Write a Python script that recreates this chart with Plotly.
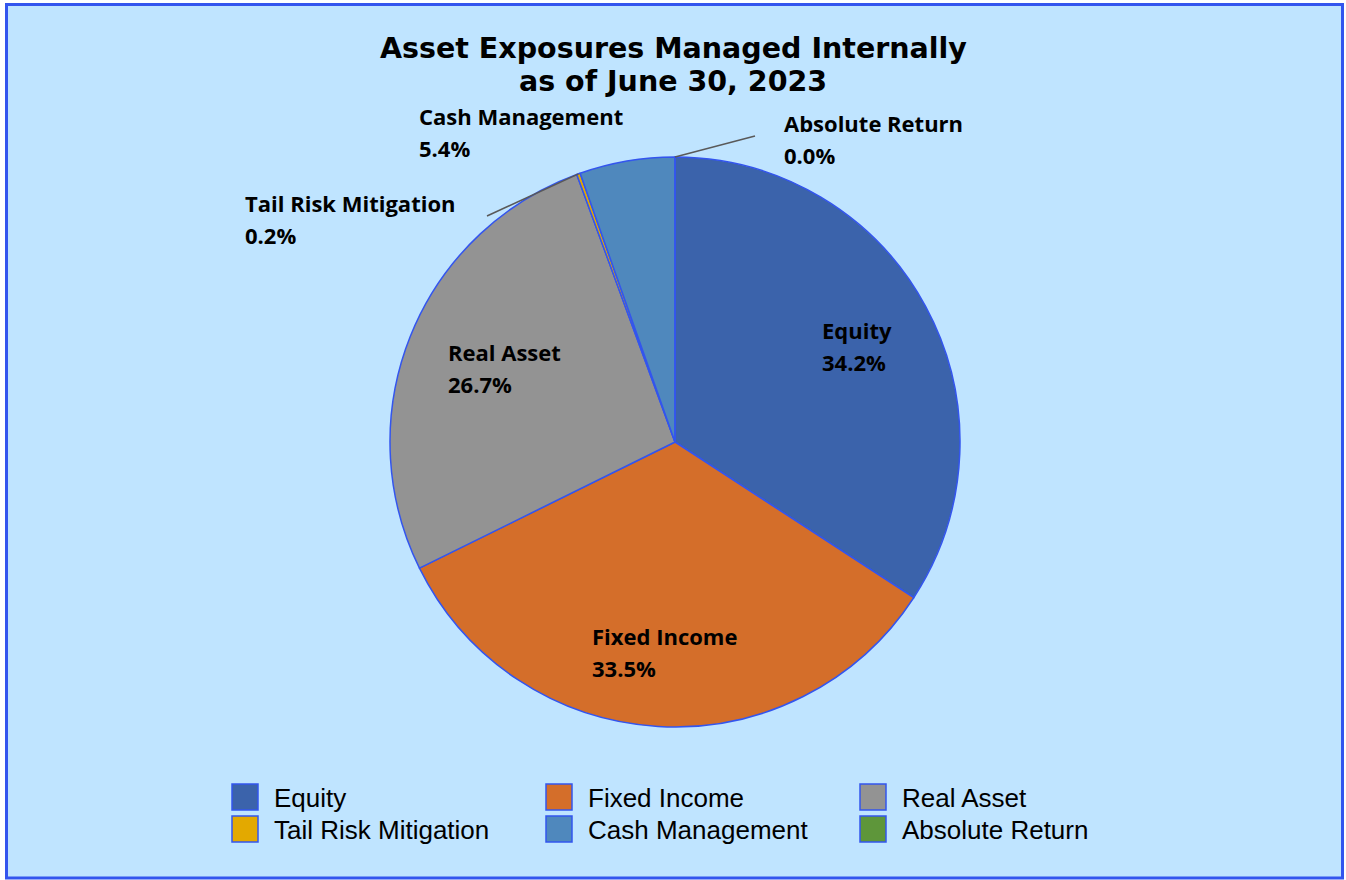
import math
import plotly.graph_objects as go

categories = ["Equity", "Fixed Income", "Real Asset", "Tail Risk Mitigation", "Cash Management", "Absolute Return"]
values = [34.2, 33.5, 26.7, 0.2, 5.4, 0.0]
colors = ["#3B63AB", "#D46E2A", "#939393", "#E3A900", "#4F88BD", "#5E963A"]
title_lines = ["Asset Exposures Managed Internally", "as of June 30, 2023"]

W, H = 1346, 880
CX, CY, R = 675, 442, 285

# label top-left anchor positions (pixels) for each category
label_pos = [(820, 330), (590, 636), (446, 352), (243, 203), (417, 116), (782, 123)]
# leader line label-side end (pixels), None if label is inside slice
leader_end = [None, None, None, (487, 216), None, (755, 136)]


def px(x):
    return x / W


def py(y):
    return (H - y) / H


fig = go.Figure()
fig.add_trace(go.Pie(
    labels=categories, values=values, sort=False, direction="clockwise", rotation=0,
    marker=dict(colors=colors, line=dict(color="#3355EE", width=1.5)),
    textinfo="none", hoverinfo="label+percent", showlegend=False,
    domain=dict(x=[px(CX - R), px(CX + R)], y=[py(CY + R), py(CY - R)]),
))

annotations = []
shapes = []
# frame
shapes.append(dict(type="rect", xref="paper", yref="paper", x0=px(6.5), x1=px(1342.5), y0=py(878), y1=py(4.5),
                   fillcolor="#BFE4FF", line=dict(color="#3355EE", width=3), layer="below"))

# title
for i, t in enumerate(title_lines):
    annotations.append(dict(text="<b>%s</b>" % t, x=px(673), y=py(48 + 34 * i), xref="paper", yref="paper",
                            xanchor="center", yanchor="middle", showarrow=False,
                            font=dict(family="DejaVu Sans", size=28.5, color="#000")))

total = sum(values)
cum = 0.0
for i, (cat, v) in enumerate(zip(categories, values)):
    lx, ly = label_pos[i]
    pct = "%.1f%%" % (100 * v / total)
    annotations.append(dict(text="<b>%s</b>" % cat, x=px(lx), y=py(ly), xref="paper", yref="paper",
                            xanchor="left", yanchor="middle", showarrow=False,
                            font=dict(family="Open Sans", size=22, color="#000")))
    annotations.append(dict(text="<b>%s</b>" % pct, x=px(lx), y=py(ly + 32), xref="paper", yref="paper",
                            xanchor="left", yanchor="middle", showarrow=False,
                            font=dict(family="Open Sans", size=22, color="#000")))
    mid = cum + v / 2
    cum += v
    if leader_end[i] is not None:
        ang = math.radians(90 - 360 * mid / total)
        ex, ey = CX + R * math.cos(ang), CY - R * math.sin(ang)
        sx, sy = leader_end[i]
        shapes.append(dict(type="line", xref="paper", yref="paper", x0=px(sx), y0=py(sy), x1=px(ex), y1=py(ey),
                           line=dict(color="#595959", width=1.5)))

# legend (3 columns x 2 rows)
col_x = [232, 546, 860]
row_y = [797, 829]
for i, (cat, c) in enumerate(zip(categories, colors)):
    x0 = col_x[i % 3]
    y0 = row_y[i // 3]
    shapes.append(dict(type="rect", xref="paper", yref="paper", x0=px(x0), x1=px(x0 + 26), y0=py(y0 + 13), y1=py(y0 - 13),
                       fillcolor=c, line=dict(color="#3355EE", width=1.5)))
    annotations.append(dict(text=cat, x=px(x0 + 40), y=py(y0 + 1), xref="paper", yref="paper",
                            xanchor="left", yanchor="middle", showarrow=False,
                            font=dict(family="Liberation Sans", size=26, color="#000")))

fig.update_layout(width=W, height=H, margin=dict(l=0, r=0, t=0, b=0),
                  paper_bgcolor="white", plot_bgcolor="white",
                  shapes=shapes, annotations=annotations, showlegend=False)
fig.write_html("out.html", config={"displayModeBar": False},
               post_script="document.body.style.margin='0';document.body.style.overflow='hidden';")
